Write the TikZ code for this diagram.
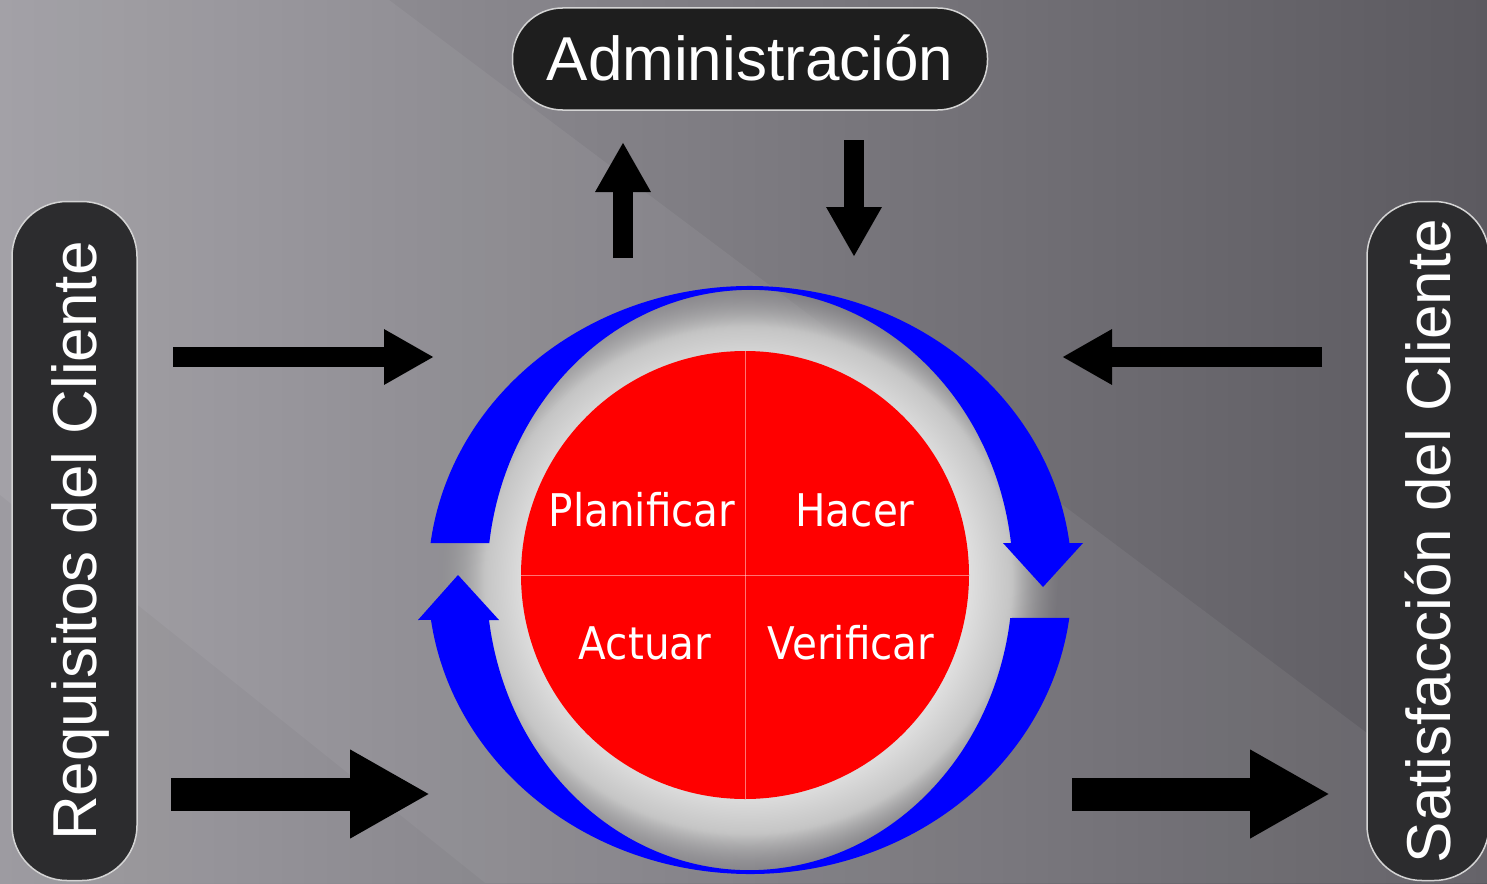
\documentclass[tikz,border=0pt]{standalone}
\usepackage{fontspec}
\setmainfont{Liberation Sans}
\newfontfamily\pdcafont[FakeStretch=0.9]{DejaVu Sans}
\usetikzlibrary{arrows.meta,fadings}
\definecolor{bgleft}{HTML}{9E9CA2}
\definecolor{bgright}{HTML}{5C5A60}
\definecolor{boxfill}{HTML}{2C2C2E}
\definecolor{topfill}{HTML}{1E1E1E}
\definecolor{boxline}{HTML}{D4D4D4}
\pgfdeclareradialshading{haloshade}{\pgfpointorigin}{color(0bp)=(white); color(17bp)=(black!10); color(21bp)=(black!22); color(25bp)=(black!42); color(50bp)=(black!42)}

\begin{document}
\begin{tikzpicture}[x=1pt,y=-1pt,
    labelbox/.style={draw=boxline, line width=1.5pt, fill=boxfill, text=white, inner sep=0pt,
        font=\fontsize{62}{70}\selectfont, text height=44pt, text depth=0pt},
    pdcatext/.style={text=white, anchor=base, font=\pdcafont\fontsize{45}{50}\selectfont},
    thinarrow/.style={line width=20pt, -{Triangle[width=52pt,length=50pt]}},
    fatarrow/.style={line width=33pt, -{Triangle[width=83pt,length=80pt]}},
    divider/.style={white, opacity=.45, line width=1pt}]
        \useasboundingbox (0,0) rectangle (1487,883);
        % Fondo
        \shade[left color=bgleft, right color=bgright] (0,0) rectangle (1487,883);
        \fill[white, opacity=.06] (0,0) -- (389,0) -- (1487,823) -- (1487,883) -- (0,883) -- cycle;
        \fill[black, opacity=.03] (0,495) -- (485,883) -- (0,883) -- cycle;
        % Halo
        \shade[shading=haloshade, path fading=circle with fuzzy edge 15 percent]
            (748,580) ellipse [x radius=310, y radius=298];
        % Ciclo
        \fill[blue] (750,580) ++(187.2:322 and 294)
            arc[start angle=187.2, end angle=352.8, x radius=322, y radius=294]
            -- (1083,543) -- (1043,587) -- (1003,543) -- (1011,543)
            arc[start angle=352.7, end angle=187.3, x radius=263, y radius=290] -- cycle;
        \fill[blue] (750,580) ++(7.4:322 and 294)
            arc[start angle=7.4, end angle=172.2, x radius=322, y radius=294]
            -- (418,620) -- (458,575) -- (499,620) -- (489,620)
            arc[start angle=172.1, end angle=7.5, x radius=263, y radius=290] -- cycle;
        \node[circle, fill=red, minimum size=448pt, inner sep=0pt] (pdca) at (745,575) {};
        \draw[divider] (pdca.north) -- (pdca.south);
        \draw[divider] (pdca.west) -- (pdca.east);
        \node[pdcatext] (plan) at (642,526) {Planificar};
        \node[pdcatext] (hacer) at (855,526) {Hacer};
        \node[pdcatext] (actuar) at (645,659) {Actuar};
        \node[pdcatext] (verif) at (851,659) {Verificar};
        % Cajas
        \node[labelbox, fill=topfill, rounded corners=50pt, minimum width=475pt, minimum height=102pt] (admin) at (750,59) {Administración};
        \node[labelbox, rounded corners=55pt, rotate=90, minimum width=679pt, minimum height=125pt] (req) at (74.5,541) {Requisitos del Cliente};
        \node[labelbox, rounded corners=55pt, rotate=90, minimum width=679pt, minimum height=122pt] (sat) at (1428,541) {Satisfacción del Cliente};
        % Flechas
        \coordinate (admupA) at (623,258);
        \coordinate (admupB) at (623,142);
        \coordinate (admdnA) at (854,140);
        \coordinate (admdnB) at (854,257);
        \coordinate (reqinA) at (173,357);
        \coordinate (reqinB) at (434,357);
        \coordinate (reqbigA) at (171,794);
        \coordinate (reqbigB) at (430,794);
        \coordinate (satinA) at (1322,357);
        \coordinate (satinB) at (1062,357);
        \coordinate (satbigA) at (1072,794);
        \coordinate (satbigB) at (1330,794);
        \draw[thinarrow] (admupA) -- (admupB);
        \draw[thinarrow] (admdnA) -- (admdnB);
        \draw[thinarrow] (reqinA) -- (reqinB);
        \draw[thinarrow] (satinA) -- (satinB);
        \draw[fatarrow] (reqbigA) -- (reqbigB);
        \draw[fatarrow] (satbigA) -- (satbigB);
\end{tikzpicture}
\end{document}
